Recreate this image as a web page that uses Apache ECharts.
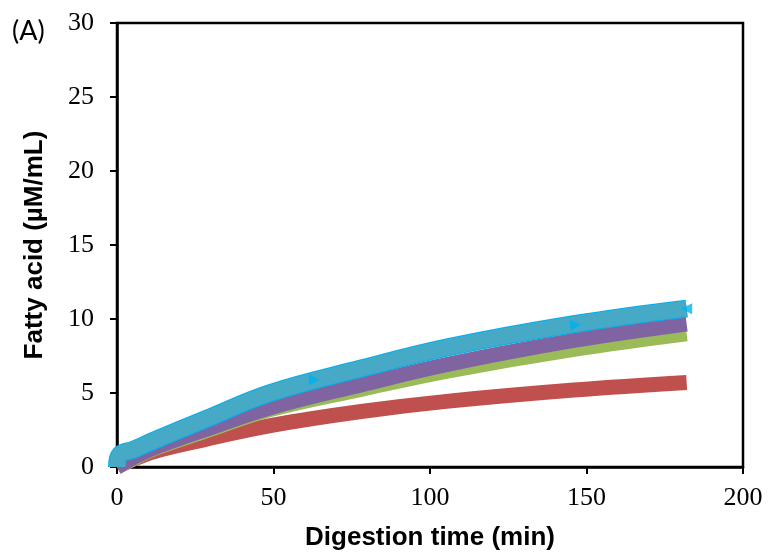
<!DOCTYPE html>
<html>
<head>
<meta charset="utf-8">
<script src="https://cdn.jsdelivr.net/npm/echarts@6/dist/echarts.min.js"></script>
<style>
html,body{margin:0;padding:0;background:#fff;}
#chart{width:768px;height:560px;}
</style>
</head>
<body>
<div id="chart"></div>
<script>
// Digestion time (min)
const timeMin = [0, 5, 12, 28, 49, 78, 106, 146, 182];
const redValues = [0, 0.5, 1.05, 1.85, 2.8, 3.75, 4.45, 5.2, 5.71];
const greenValues = [0, 0.55, 1.25, 2.4, 3.88, 5.25, 6.5, 7.95, 9.0];
const purpleValues = [0, 0.6, 1.3, 2.5, 4.0, 5.55, 6.95, 8.55, 9.66];
const blueTimeMin = [0, 1, 5, 12, 28, 49, 78, 106, 146, 182];
const blueValues = [0, 0.85, 1.15, 1.8, 3.2, 5.0, 6.65, 8.1, 9.65, 10.7];
const blueMarkerTime = [63, 146.5, 182];
const blueMarkerValues = [5.9, 9.6, 10.7];
const blueMarkerRotate = [-90, -90, 90];
const xTicks = [0, 50, 100, 150, 200];
const yTicks = [0, 5, 10, 15, 20, 25, 30];

function pairs(xs, ys) { return xs.map((x, i) => [x, ys[i]]); }

const chart = echarts.init(document.getElementById('chart'), null, {renderer: 'canvas'});

function band(name, xs, ys, color, width, z) {
  return {
    name: name, type: 'line', data: pairs(xs, ys), smooth: 0.4,
    showSymbol: false, symbol: 'none', clip: false, z: z,
    lineStyle: {color: color, width: width, cap: 'butt', join: 'round'},
    itemStyle: {color: color}, animation: false
  };
}

const option = {
  animation: false,
  backgroundColor: '#ffffff',
  grid: {left: 117, right: 25, top: 23, bottom: 93, show: true, borderColor: '#000', borderWidth: 2.5, backgroundColor: 'transparent'},
  xAxis: {
    type: 'value', min: xTicks[0], max: xTicks[xTicks.length - 1], interval: 50,
    name: 'Digestion time (min)', nameLocation: 'middle', nameGap: 58,
    nameTextStyle: {fontFamily: 'Liberation Sans', fontWeight: 'bold', fontSize: 26, color: '#000'},
    axisLine: {show: true, lineStyle: {color: '#000', width: 2.5}},
    axisTick: {show: true, inside: false, length: 7, lineStyle: {color: '#000', width: 2}},
    axisLabel: {fontFamily: 'Liberation Serif', fontSize: 26, color: '#000', margin: 18},
    splitLine: {show: false}
  },
  yAxis: {
    type: 'value', min: yTicks[0], max: yTicks[yTicks.length - 1], interval: 5,
    name: 'Fatty acid (µM/mL)', nameLocation: 'middle', nameGap: 69, nameRotate: 90,
    nameTextStyle: {fontFamily: 'Liberation Sans', fontWeight: 'bold', fontSize: 26, color: '#000'},
    axisLine: {show: true, lineStyle: {color: '#000', width: 2.5}},
    axisTick: {show: true, inside: false, length: 7, lineStyle: {color: '#000', width: 2}},
    axisLabel: {fontFamily: 'Liberation Serif', fontSize: 26, color: '#000', margin: 23},
    splitLine: {show: false}
  },
  graphic: [{
    type: 'text', left: 12, top: 18,
    style: {text: '(A)', fontFamily: 'Lato', fontSize: 27, fill: '#000'}
  }],
  series: [
    band('red', timeMin, redValues, '#C0504D', 15, 2),
    band('green', timeMin, greenValues, '#9BBB59', 15, 3),
    band('purple', timeMin, purpleValues, '#8064A2', 15, 4),
    band('blueEdge', blueTimeMin, blueValues, '#00B0F0', 18, 5),
    band('blue', blueTimeMin, blueValues, '#46A9C5', 16, 6),
    {
      name: 'blueMarkers', type: 'scatter', z: 7, clip: false, symbol: 'triangle', symbolSize: [11, 11],
      data: blueMarkerTime.map((x, i) => ({value: [x, blueMarkerValues[i]], symbolRotate: blueMarkerRotate[i]})),
      itemStyle: {color: '#00B0F0'}, animation: false
    }
  ]
};
chart.setOption(option);
</script>
</body>
</html>
